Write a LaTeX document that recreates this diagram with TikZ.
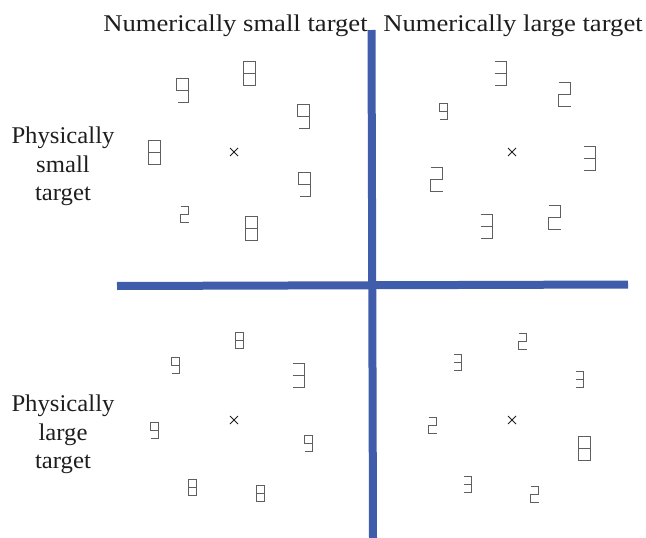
\documentclass[tikz,border=0pt]{standalone}
\usepackage{fontspec}
\setmainfont{Liberation Serif}
\newfontfamily\titlefont{Liberation Serif}[FakeStretch=1.11]
\newfontfamily\sidefont{Liberation Serif}[FakeStretch=1.03]
\definecolor{axisblue}{RGB}{63,93,171}
\definecolor{diggray}{RGB}{95,95,95}
\definecolor{txt}{RGB}{30,30,30}
\tikzset{
  axisline/.style={draw=axisblue, line width=8pt},
  lbl/.style={text=txt, font=\sidefont\fontsize{24}{28}\selectfont, inner sep=0pt},
  ttl/.style={text=txt, font=\titlefont\fontsize{24}{28}\selectfont, inner sep=0pt},
  digline/.style={draw=diggray, line width=1pt, line join=miter},
  big/.style={scale=12},
  small/.style={scale=8},
  pics/deight/.style={code={\draw[digline] (-0.5,-1) rectangle (0.5,1); \draw[digline] (-0.5,0) -- (0.5,0);}},
  pics/dnine/.style={code={\draw[digline] (0.5,0) -- (-0.5,0) -- (-0.5,-1) -- (0.5,-1) -- (0.5,1) -- (-0.4,1);}},
  pics/dtwo/.style={code={\draw[digline] (-0.5,-1) -- (0.5,-1) -- (0.5,0) -- (-0.5,0) -- (-0.5,1) -- (0.5,1);}},
  pics/dthree/.style={code={\draw[digline] (-0.5,-1) -- (0.5,-1) -- (0.5,1) -- (-0.5,1); \draw[digline] (-0.5,0) -- (0.5,0);}},
  pics/cross/.style={code={\draw[draw=txt, line width=0.9pt] (-4,-4) -- (4,4) (-4,4) -- (4,-4);}},
}
\begin{document}
\begin{tikzpicture}[x=1pt,y=-1pt]
\useasboundingbox (0,0) rectangle (646,538);
% axes
\coordinate (vtop) at (371.5,30);
\coordinate (vbot) at (373,538);
\coordinate (hleft) at (117,286);
\coordinate (hright) at (628,284.5);
\draw[axisline] (hleft) -- (hright);
\draw[axisline] (vtop) -- (vbot);
% titles
\node[ttl, anchor=base] (tnsmall) at (235.5,31) {Numerically small target};
\node[ttl, anchor=base] (tnlarge) at (513,31) {Numerically large target};
\node[lbl, anchor=base] (ps1) at (63,143.5) {Physically};
\node[lbl, anchor=base] (ps2) at (63,172) {small};
\node[lbl, anchor=base] (ps3) at (63,200.5) {target};
\node[lbl, anchor=base] (pl1) at (63,411.5) {Physically};
\node[lbl, anchor=base] (pl2) at (63,440) {large};
\node[lbl, anchor=base] (pl3) at (63,468.5) {target};
% top-left quadrant
\pic at (234,152) {cross};
\pic[big] at (182.5,90.5) {dnine};
\pic[big] at (249.5,73.5) {deight};
\pic[big] at (303.5,116.5) {dnine};
\pic[big] at (154.5,152.5) {deight};
\pic[big] at (304.5,184.5) {dnine};
\pic[small] at (184.5,214.5) {dtwo};
\pic[big] at (251.5,228.5) {deight};
% top-right quadrant
\pic at (512,152) {cross};
\pic[big] at (500.5,73.5) {dthree};
\pic[big] at (564.5,94.5) {dtwo};
\pic[small] at (443.5,111.5) {dnine};
\pic[big] at (589.5,158.5) {dthree};
\pic[big] at (436.5,179.5) {dtwo};
\pic[big] at (486.5,226.5) {dthree};
\pic[big] at (554.5,217.5) {dtwo};
% bottom-left quadrant
\pic at (234,420) {cross};
\pic[small] at (239.5,340.5) {deight};
\pic[small] at (175.5,365.5) {dnine};
\pic[big] at (298.5,375.5) {dthree};
\pic[small] at (154.5,430.5) {dnine};
\pic[small] at (308.5,443.5) {dnine};
\pic[small] at (192.5,487.5) {deight};
\pic[small] at (260.5,493.5) {deight};
% bottom-right quadrant
\pic at (512,420) {cross};
\pic[small] at (522.5,341.5) {dtwo};
\pic[small] at (457.5,362.5) {dthree};
\pic[small] at (579.5,379.5) {dthree};
\pic[small] at (432.5,425.5) {dtwo};
\pic[big] at (584.5,448.5) {deight};
\pic[small] at (467.5,484.5) {dthree};
\pic[small] at (534.5,494.5) {dtwo};
\end{tikzpicture}
\end{document}
